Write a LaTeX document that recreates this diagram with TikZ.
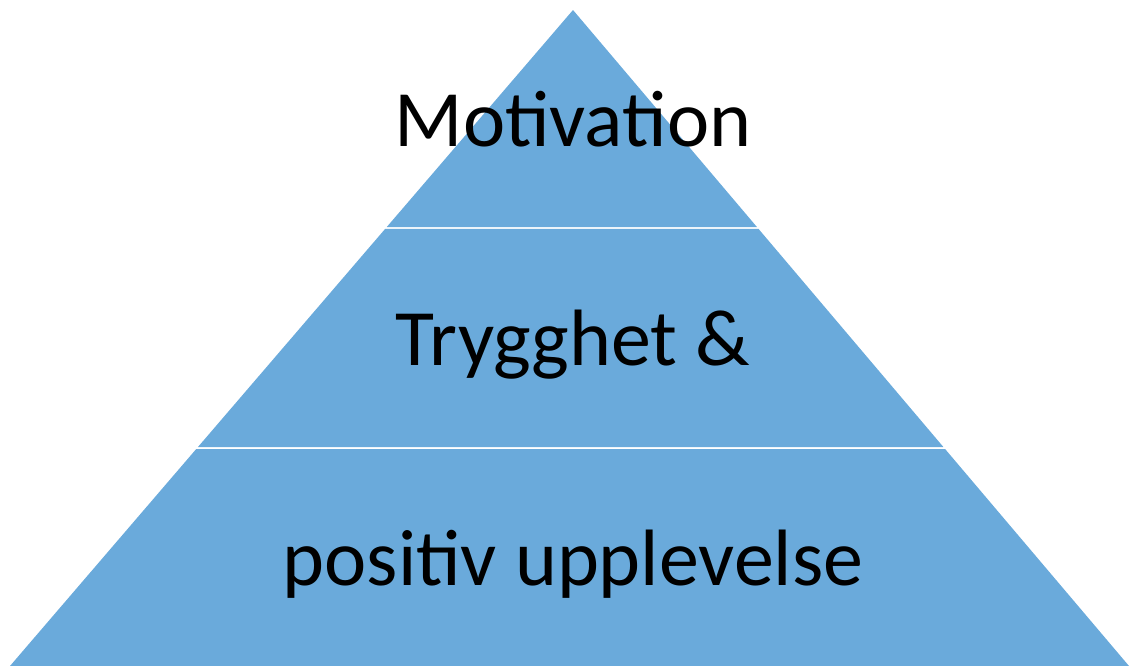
\documentclass[tikz,border=0pt]{standalone}
\usepackage{fontspec}
\setmainfont{Carlito}
\usetikzlibrary{calc}
\definecolor{pyrblue}{RGB}{106,170,219}

\begin{document}
\begin{tikzpicture}[
    x=0.02cm, y=-0.02cm,
    layer/.style={fill=pyrblue, draw=none},
    lbl/.style={anchor=base, inner sep=0pt, text=black,
                font=\fontsize{45.5}{54}\selectfont}
  ]
    \useasboundingbox (0,0) rectangle (1130,666);
    % Corners of the pyramid
    \coordinate (apex) at (573,10);
    \coordinate (bl) at (10,666);
    \coordinate (br) at (1129,666);

    % Layers, with a thin white gap between them
    \fill[layer] (apex) -- ($(apex)!0.3308!(br)$) -- ($(apex)!0.3308!(bl)$) -- cycle;
    \fill[layer] ($(apex)!0.3338!(bl)$) -- ($(apex)!0.3338!(br)$)
      -- ($(apex)!0.6662!(br)$) -- ($(apex)!0.6662!(bl)$) -- cycle;
    \fill[layer] ($(apex)!0.6692!(bl)$) -- ($(apex)!0.6692!(br)$)
      -- (br) -- (bl) -- cycle;

    % Labels
    \node[lbl] (top) at (573,146) {Motivation};
    \node[lbl] (mid) at (573,365) {Trygghet \&};
    \node[lbl] (bot) at (573,585) {positiv upplevelse};
\end{tikzpicture}
\end{document}
